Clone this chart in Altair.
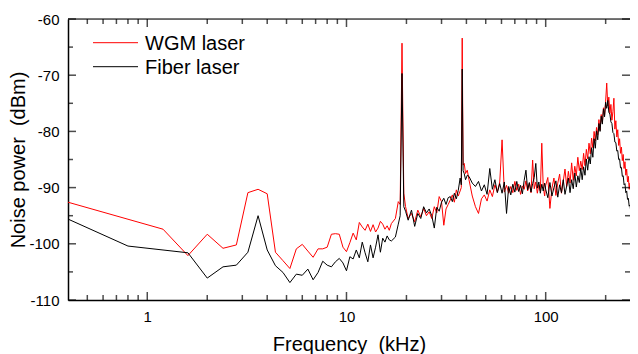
import altair as alt
import pandas as pd

W, H = 562, 281
FONT = "Liberation Sans"

# ---------------- data ----------------
wgm_freq_low = [0.4, 1.2]
wgm_low = [-92.6, -97.4]
fiber_freq_low = [0.4, 0.8]
fiber_low = [-95.6, -100.4]

freq_a = [1.6, 2.0, 2.4, 2.8, 3.2, 3.6, 4.0, 4.4, 4.8, 5.2, 5.6, 6.0, 6.4, 6.8, 7.2, 7.6,
          8.0, 8.4, 8.8, 9.2, 9.6, 10.0, 10.4, 10.8, 11.2, 11.6, 12.0, 12.4, 12.8, 13.2,
          13.6, 14.0, 14.4, 14.8, 15.2, 15.6, 16.0, 16.4]
wgm_a = [-102.1, -98.3, -100.8, -100.2, -90.9, -90.3, -91.1, -101.5, -103.0, -104.4,
         -100.9, -100.1, -101.3, -102.4, -100.9, -100.9, -100.6, -98.3, -98.2, -98.3,
         -100.6, -101.4, -99.8, -98.1, -99.3, -96.2, -97.0, -97.6, -96.5, -97.8,
         -96.6, -97.9, -97.2, -96.0, -96.5, -97.4, -96.8, -97.6]
fiber_a = [-101.6, -106.1, -104.1, -103.8, -101.5, -95.0, -101.1, -103.9, -105.1, -106.9,
           -105.4, -105.6, -104.5, -106.4, -105.1, -103.1, -103.8, -104.1, -103.2, -102.6,
           -103.4, -104.8, -102.3, -102.7, -101.1, -102.5, -99.7, -101.6, -103.2, -100.2,
           -102.5, -100.6, -98.4, -101.5, -99.0, -99.7, -98.6, -99.3]

freq_b = [16.8, 17.6, 18.2, 18.6, 19.0, 19.4, 19.8, 20.4, 21.2, 22.0, 22.8, 23.6, 24.4,
          25.2, 26.0, 26.8, 27.6, 28.4, 29.2, 30.0, 30.8, 31.6, 32.4, 33.2, 34.0, 34.8,
          35.6, 36.4, 37.2, 37.7, 38.1, 38.5, 39.0, 39.6, 40.4]
wgm_b = [-96.4, -95.5, -92.5, -93.0, -64.3, -91.0, -93.4, -95.5, -94.6, -96.1, -94.0,
         -95.2, -93.7, -95.0, -94.3, -95.5, -93.4, -94.5, -91.6, -92.5, -96.7, -93.8,
         -93.0, -92.2, -91.3, -92.6, -90.4, -91.5, -90.6, -90.0, -63.4, -86.0, -85.7,
         -87.5, -86.9]
fiber_b = [-99.5, -98.8, -96.5, -95.0, -69.7, -93.4, -94.2, -95.8, -94.0, -96.9, -94.6,
           -95.5, -93.4, -94.5, -93.8, -95.0, -97.2, -93.5, -94.2, -92.6, -91.9, -93.0,
           -91.8, -91.6, -92.5, -91.0, -92.0, -90.5, -88.3, -89.5, -68.9, -87.0, -87.5,
           -88.6, -87.8]

freq_c = [41.2, 42.8, 44.4, 46.0, 47.6, 49.2, 50.8, 52.4, 54.0, 55.6, 57.2, 58.8, 60.4,
          62.0, 63.6, 65.2, 66.8, 68.4, 70.0, 71.6, 73.2, 74.8, 76.4, 78.0, 79.6, 81.2,
          82.8, 84.4, 86.0, 87.6, 89.2, 90.8, 92.4, 94.0, 95.6, 97.2, 98.8]
wgm_c = [-88.6, -91.5, -93.4, -94.6, -92.0, -91.3, -92.4, -90.4, -91.6, -89.5, -90.8,
         -89.0, -81.5, -90.8, -89.6, -91.0, -89.8, -90.9, -88.9, -90.5, -89.4, -91.2,
         -89.7, -90.3, -88.8, -90.6, -89.2, -90.9, -85.1, -90.2, -89.0, -91.0, -89.5,
         -90.6, -82.1, -89.8, -91.5]
fiber_c = [-88.0, -89.2, -89.8, -88.9, -90.6, -89.5, -91.2, -86.6, -90.3, -88.6, -90.9,
           -89.3, -91.0, -89.0, -94.6, -89.8, -91.3, -89.4, -90.8, -88.9, -90.7, -89.6,
           -91.1, -88.7, -86.9, -90.4, -89.1, -90.8, -89.3, -88.2, -85.7, -90.1, -89.0,
           -91.0, -89.4, -90.6, -89.2]

freq_d = [100.0, 102.5, 105.0, 107.5, 110.0, 112.5, 115.0, 117.5, 120.0, 122.5,
          125.0, 127.5, 130.0, 132.5, 135.0, 137.5, 140.0, 142.5, 145.0, 147.5,
          150.0, 152.5, 155.0, 157.5, 160.0, 162.5, 165.0, 167.5, 170.0, 172.5,
          175.0, 177.5, 180.0, 182.5, 185.0, 187.5, 190.0, 192.5, 195.0, 197.5,
          200.0, 202.5, 205.0, 207.5, 210.0, 212.5, 215.0, 217.5, 220.0, 222.5,
          225.0, 227.5, 230.0, 232.5, 235.0, 237.5, 240.0, 242.5, 245.0, 247.5,
          250.0, 252.5, 255.0, 257.5, 260.0, 262.5, 265.0, 267.5, 270.0, 272.5,
          275.0, 277.5, 280.0, 282.5, 285.0, 287.5, 290.0, 292.5, 295.0, 297.5,
          300.0]
wgm_d = [-89.6, -88.2, -93.7, -90.1, -88.3, -91.4, -89.2, -87.6, -91.0, -88.9,
         -86.7, -89.8, -87.1, -89.2, -85.6, -88.7, -86.2, -87.9, -84.6, -87.0,
         -85.3, -86.8, -83.9, -86.1, -83.2, -84.9, -82.1, -84.0, -81.2, -82.9,
         -80.0, -81.7, -79.3, -80.6, -77.9, -79.8, -77.0, -78.4, -75.8, -77.1,
         -74.6, -71.4, -75.5, -73.9, -76.8, -75.2, -78.0, -76.5, -74.1, -79.6,
         -78.1, -81.0, -79.7, -82.5, -81.3, -83.9, -82.8, -85.2, -84.1, -86.6,
         -85.4, -87.8, -86.7, -89.0, -88.0, -90.3, -89.2, -91.4, -90.3, -92.4,
         -91.4, -93.3, -92.4, -94.1, -93.3, -94.9, -94.2, -95.6, -95.0, -96.1,
         -95.6]
fiber_d = [-90.3, -91.8, -89.1, -91.5, -90.0, -88.8, -91.7, -89.5, -90.9, -88.6,
           -91.2, -89.7, -88.3, -90.9, -88.6, -90.2, -87.4, -89.9, -87.9, -89.1,
           -86.5, -88.6, -86.3, -87.8, -84.9, -86.9, -84.5, -85.8, -82.9, -84.6,
           -81.3, -83.0, -79.9, -81.5, -78.6, -80.0, -77.3, -78.7, -76.0, -77.4,
           -74.8, -75.9, -74.5, -76.6, -76.9, -78.3, -78.6, -80.2, -80.4, -81.9,
           -82.0, -83.5, -83.4, -85.0, -84.9, -86.5, -86.4, -88.0, -87.9, -89.5,
           -89.3, -90.9, -90.6, -92.1, -91.9, -93.3, -93.1, -94.4, -94.3, -95.5,
           -95.4, -96.5, -96.4, -97.4, -97.3, -98.3, -98.1, -99.0, -98.9, -99.6,
           -99.5]

x_labels = [1, 10, 100]
x_minor = [0.5, 0.6, 0.7, 0.8, 0.9, 2, 3, 4, 5, 6, 7, 8, 9,
           20, 30, 40, 50, 60, 70, 80, 90, 200]
y_labels = [-110, -100, -90, -80, -70, -60]
y_minor = [-105, -95, -85, -75, -65]
y_top = [-60]

series_names = ["WGM laser", "Fiber laser"]
series_colors = ["#ff0000", "#000000"]

# ---------------- tables ----------------
freq = freq_a + freq_b + freq_c + freq_d
df_wgm = pd.DataFrame({"f": wgm_freq_low + freq,
                       "dB": wgm_low + wgm_a + wgm_b + wgm_c + wgm_d})
df_fiber = pd.DataFrame({"f": fiber_freq_low + freq,
                         "dB": fiber_low + fiber_a + fiber_b + fiber_c + fiber_d})

NB = "\u00a0"
BLACK = "#000000"

x_main = alt.X(
    "f:Q", scale=alt.Scale(type="log", domain=[0.4, 265], nice=False),
    axis=alt.Axis(orient="bottom", title="Frequency" + NB + " (kHz)", values=x_labels,
                  format="d", ticks=False, tickSize=0, grid=False, labelPadding=9,
                  titlePadding=10, domainColor=BLACK, domainWidth=1.5,
                  labelFontSize=15, titleFontSize=20, titleFontWeight="normal",
                  labelColor=BLACK, titleColor=BLACK, labelFlush=False),
)
y_main = alt.Y(
    "dB:Q", scale=alt.Scale(domain=[-110, -60], nice=False),
    axis=alt.Axis(orient="left", title="Noise power" + NB + " (dBm)", values=y_labels,
                  labelExpr="toString(datum.value)",
                  ticks=False, tickSize=0, grid=False, labelPadding=9,
                  titlePadding=0, domainColor=BLACK, domainWidth=1.5,
                  labelFontSize=15, titleFontSize=20, titleFontWeight="normal",
                  labelColor=BLACK, titleColor=BLACK),
)

line_wgm = alt.Chart(df_wgm).mark_line(color=series_colors[0], strokeWidth=1,
                                        clip=True).encode(x=x_main, y=y_main)
line_fiber = alt.Chart(df_fiber).mark_line(color=series_colors[1], strokeWidth=1,
                                            clip=True).encode(x=x_main, y=y_main)

legend_layers = []
for i, (name, col) in enumerate(zip(series_names, series_colors)):
    ld = pd.DataFrame({"label": [name]})
    ly = 23.7 + 24 * i
    legend_layers.append(
        alt.Chart(ld).mark_rule(color=col, strokeWidth=1).encode(
            x=alt.value(25), x2=alt.value(70), y=alt.value(ly)))
    legend_layers.append(
        alt.Chart(ld).mark_text(align="left", baseline="alphabetic", fontSize=20,
                                font=FONT, color=BLACK).encode(
            x=alt.value(77), y=alt.value(ly + 6.8), text="label:N"))


def xticks(vals, length, top):
    pos = length / 2 if top else H - length / 2
    return alt.Chart(pd.DataFrame({"f": vals})).mark_tick(
        color=BLACK, thickness=1.5, size=length, orient="vertical"
    ).encode(x=x_main, y=alt.value(pos))


def yticks(vals, length, right):
    pos = W - length / 2 if right else length / 2
    return alt.Chart(pd.DataFrame({"dB": vals})).mark_tick(
        color=BLACK, thickness=1.5, size=length, orient="horizontal"
    ).encode(y=y_main, x=alt.value(pos))


tick_layers = [
    xticks(x_labels, 8, False), xticks(x_minor, 5, False),
    xticks(x_labels, 8, True), xticks(x_minor, 5, True),
    yticks(y_labels, 8, False), yticks(y_minor, 5, False),
    yticks(y_labels, 8, True), yticks(y_minor, 5, True),
]

# top frame line, drawn as one long horizontal tick at the top of the y range
top_border = alt.Chart(pd.DataFrame({"dB": y_top})).mark_tick(
    color=BLACK, thickness=1.5, size=W, orient="horizontal"
).encode(y=y_main, x=alt.value(W / 2))

chart = alt.layer(line_wgm, line_fiber, *legend_layers, *tick_layers,
                  top_border).properties(
    width=W, height=H,
    autosize=alt.AutoSizeParams(type="none"),
    padding={"left": 60, "top": 11, "right": 0, "bottom": 54},
).configure_view(stroke=None).configure(font=FONT)

chart.save("out.html", embed_options={"renderer": "svg", "actions": False})
